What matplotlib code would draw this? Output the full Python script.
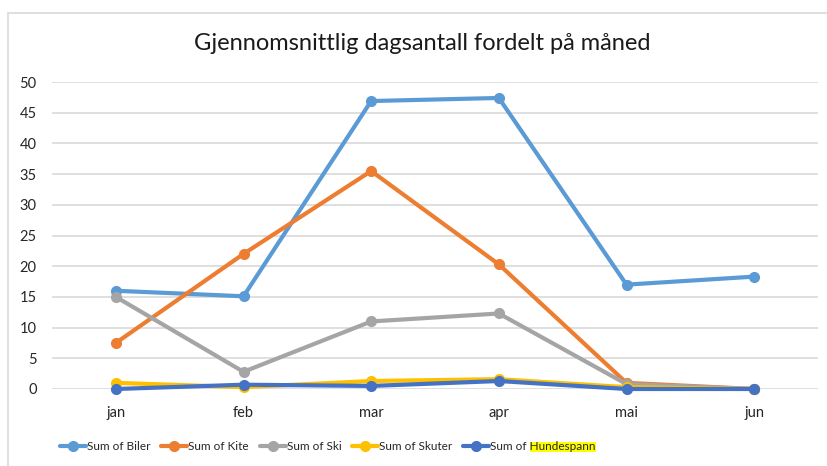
import matplotlib
matplotlib.use("Agg")
import matplotlib.pyplot as plt
from matplotlib.patches import Rectangle

months = ["jan", "feb", "mar", "apr", "mai", "jun"]
biler = [16.0, 15.1, 46.9, 47.4, 17.0, 18.3]
kite = [7.5, 22.0, 35.5, 20.3, 1.0, 0.0]
ski = [15.0, 2.8, 11.0, 12.3, 0.8, 0.0]
skuter = [1.0, 0.3, 1.3, 1.6, 0.3, 0.0]
hundespann = [0.0, 0.7, 0.5, 1.3, 0.0, 0.0]
series_names = ["Sum of Biler", "Sum of Kite", "Sum of Ski", "Sum of Skuter", "Sum of Hundespann"]
colors = ["#5B9BD5", "#ED7D31", "#A5A5A5", "#FFC000", "#4472C4"]
yticks = [0, 5, 10, 15, 20, 25, 30, 35, 40, 45, 50]

plt.rcParams['font.family'] = ['Lato', 'DejaVu Sans']

W, H = 827, 466
fig = plt.figure(figsize=(W / 100, H / 100), dpi=100)
ax = fig.add_axes([52 / W, 1 - 389 / H, (818 - 52) / W, (389 - 82) / H])

x = list(range(len(months)))
for vals, name, c in zip([biler, kite, ski, skuter, hundespann], series_names, colors):
    ax.plot(x, vals, color=c, lw=3, marker='o', ms=7, label=name, solid_capstyle='round', clip_on=False)

ax.set_xlim(-0.5, 5.5)
ax.set_ylim(0, 50)
ax.set_yticks(yticks)
ax.set_xticks(x)
ax.set_xticklabels(months)
ax.grid(axis='y', color='#D9D9D9', lw=1.2)
ax.set_axisbelow(True)
for s in ax.spines.values():
    s.set_visible(False)
ax.tick_params(length=0, labelsize=10.5, labelcolor='#262626')
ax.tick_params(axis='y', pad=11)
ax.tick_params(axis='x', pad=12)

fig.text(422 / W, 1 - 44 / H, "Gjennomsnittlig dagsantall fordelt på måned",
         ha='center', va='center', fontsize=17, color='#1a1a1a')

# frame
fig.patches.append(Rectangle((8 / W, -0.1), 1.2, 1 - 13 / H + 0.1, transform=fig.transFigure,
                             fill=False, edgecolor='#D9D9D9', lw=1.2, zorder=0))

leg = fig.legend(loc='center left', bbox_to_anchor=(60 / W, 1 - 447 / H), ncol=5, frameon=False,
                 fontsize=8.5, handlelength=2.2, handletextpad=0.1, columnspacing=0.9,
                 borderaxespad=0, borderpad=0)
for t in leg.get_texts():
    t.set_color('#262626')

fig.canvas.draw()
r = fig.canvas.get_renderer()
t = leg.get_texts()[-1]
bb = t.get_window_extent(r)
tmp = fig.text(0, 0, "Hundespann", fontsize=8.5)
wb = tmp.get_window_extent(r)
tmp.remove()
x1 = bb.x1
x0 = x1 - wb.width
fig.patches.append(Rectangle((x0 / W, (bb.y0 + 1) / H), (x1 - x0) / W, (bb.height - 1) / H,
                             transform=fig.transFigure, facecolor='#FFFF00', edgecolor='none', zorder=1))

fig.savefig("out.png", dpi=100)
